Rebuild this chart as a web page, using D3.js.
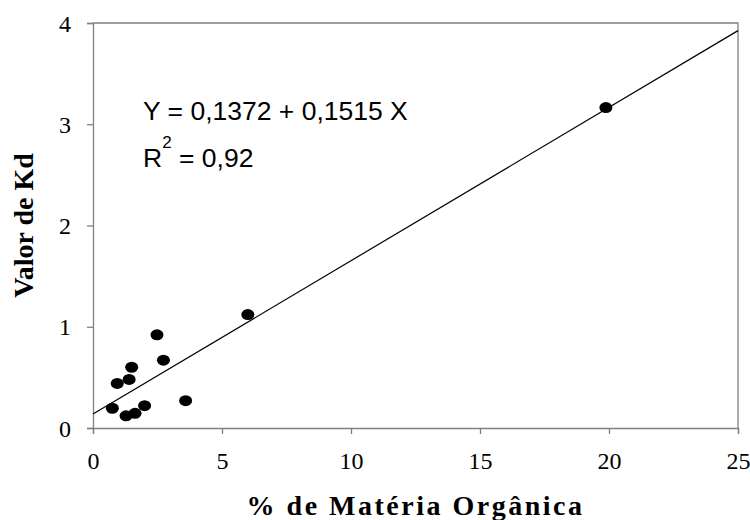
<!DOCTYPE html>
<html>
<head>
<meta charset="utf-8">
<script src="https://cdn.jsdelivr.net/npm/d3@7"></script>
<style>
  body { margin: 0; background: #fff; }
  svg { display: block; }
</style>
</head>
<body>
<script>
// dados
const materiaOrganica = [0.75, 0.94, 1.40, 1.50, 1.28, 1.63, 2.00, 2.48, 2.73, 3.59, 6.00, 19.88];
const valorKd = [0.195, 0.44, 0.48, 0.60, 0.12, 0.145, 0.22, 0.92, 0.67, 0.27, 1.12, 3.165];
const xTicks = [0, 5, 10, 15, 20, 25];
const yTicks = [0, 1, 2, 3, 4];
const intercepto = 0.1372, inclinacao = 0.1515;

const [w, h] = [750, 520];
const margem = { left: 93, right: 12, top: 23, bottom: 92 };
const serif = "Liberation Serif, Times New Roman, serif";

const svg = d3.select("body").append("svg")
    .attr("width", w)
    .attr("height", h);

// escalas
const xScale = d3.scaleLinear().domain([0, 25]).range([margem.left, w - margem.right]);
const yScale = d3.scaleLinear().domain([0, 4]).range([h - margem.bottom, margem.top]);

// caixa (topo e direita)
svg.append("path")
    .attr("d", `M${xScale(0)},${yScale(4)}H${xScale(25)}V${yScale(0)}`)
    .attr("fill", "none")
    .attr("stroke", "#808080")
    .attr("stroke-width", 1.3);

// eixos
const xAxis = d3.axisBottom(xScale).tickValues(xTicks).tickSize(6).tickPadding(18).tickFormat(d3.format("d"));
const yAxis = d3.axisLeft(yScale).tickValues(yTicks).tickSize(6).tickPadding(16).tickFormat(d3.format("d"));

const gx = svg.append("g")
    .attr("transform", `translate(0,${yScale(0)})`)
    .call(xAxis);
const gy = svg.append("g")
    .attr("transform", `translate(${xScale(0)},0)`)
    .call(yAxis);

[gx, gy].forEach(g => {
    g.attr("font-family", serif).attr("font-size", 24);
    g.select(".domain").attr("stroke", "#808080").attr("stroke-width", 1.3);
    g.selectAll(".tick line").attr("stroke", "#808080").attr("stroke-width", 1.3);
    g.selectAll(".tick text")
        .attr("fill", "#000")
        .attr("font-family", serif)
        .attr("font-size", 24);
});
gy.selectAll(".tick text").attr("dy", "0.34em");

// reta de regressão
svg.append("line")
    .attr("x1", xScale(0))
    .attr("y1", yScale(intercepto))
    .attr("x2", xScale(25))
    .attr("y2", yScale(intercepto + inclinacao * 25))
    .attr("stroke", "#000")
    .attr("stroke-width", 1.2);

// pontos
svg.selectAll("ellipse")
    .data(materiaOrganica)
    .enter()
    .append("ellipse")
    .attr("cx", d => xScale(d))
    .attr("cy", (d, i) => yScale(valorKd[i]))
    .attr("rx", 6.5)
    .attr("ry", 5.5)
    .attr("fill", "#000");

// equação
const eq = svg.append("g")
    .attr("font-family", "Liberation Sans, Arial, sans-serif")
    .attr("font-size", 26.5)
    .attr("fill", "#000");

eq.append("text")
    .attr("x", 143)
    .attr("y", 120)
    .text("Y = 0,1372 + 0,1515 X");

const r2 = eq.append("text")
    .attr("x", 143)
    .attr("y", 166.5);
r2.append("tspan").text("R");
r2.append("tspan").attr("dy", -19).attr("font-size", 17).text("2");
r2.append("tspan").attr("dy", 19).text(" = 0,92");

// títulos dos eixos
svg.append("text")
    .attr("x", (xScale(0) + xScale(25)) / 2)
    .attr("y", 515)
    .attr("text-anchor", "middle")
    .attr("font-family", serif)
    .attr("font-size", 28)
    .attr("font-weight", "bold")
    .attr("letter-spacing", "2.5px")
    .text("% de Matéria Orgânica");

svg.append("text")
    .attr("transform", `translate(33,${(yScale(0) + yScale(4)) / 2}) rotate(-90)`)
    .attr("text-anchor", "middle")
    .attr("font-family", serif)
    .attr("font-size", 28)
    .attr("font-weight", "bold")
    .text("Valor de Kd");
</script>
</body>
</html>
